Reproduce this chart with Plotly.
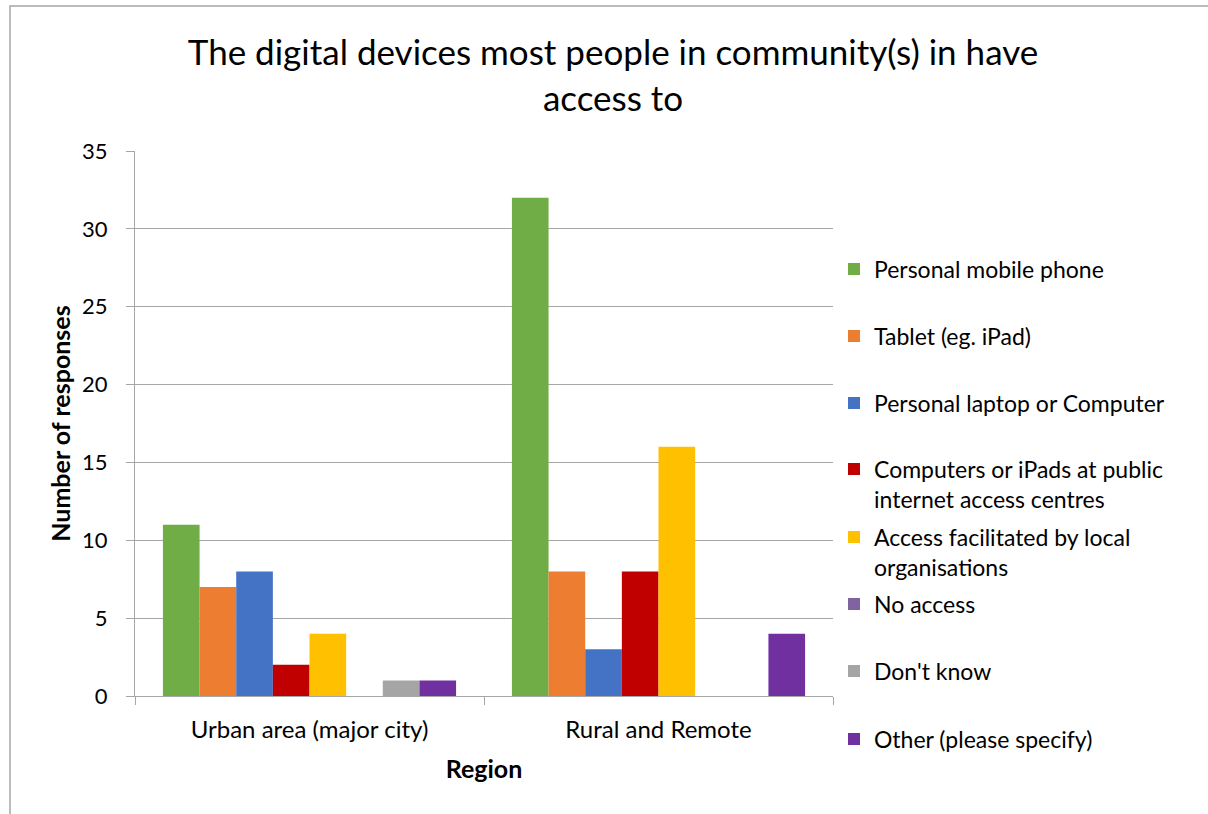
import plotly.graph_objects as go

# Survey responses by region
regions = ["Urban area (major city)", "Rural and Remote"]
devices = [
    "Personal mobile phone",
    "Tablet (eg. iPad)",
    "Personal laptop or Computer",
    "Computers or iPads at public<br>internet access centres",
    "Access facilitated by local<br>organisations",
    "No access",
    "Don't know",
    "Other (please specify)",
]
mobile_phone = [11, 32]
tablet = [7, 8]
laptop = [8, 3]
public_centres = [2, 8]
local_orgs = [4, 16]
no_access = [0, 0]
dont_know = [1, 0]
other = [1, 4]

series = [mobile_phone, tablet, laptop, public_centres, local_orgs,
          no_access, dont_know, other]
colors = ["#70AD47", "#ED7D31", "#4472C4", "#C00000", "#FFC000",
          "#8064A2", "#A5A5A5", "#7030A0"]

FONT = "Lato"
W, H = 1208, 814
left, right, top, bottom = 135, 833, 151, 696

fig = go.Figure()
legend_ids = ["legend"] + [f"legend{i}" for i in range(2, 9)]
for name, vals, col, lid in zip(devices, series, colors, legend_ids):
    fig.add_trace(go.Bar(
        x=regions, y=vals, name=name, marker_color=col,
        marker_line_width=0, legend=lid,
    ))

# Legend entry vertical centres (pixels from top of page)
legend_centres = [269, 336, 403, 484, 552, 604, 671, 739]
legend_layout = {}
for lid, cy in zip(legend_ids, legend_centres):
    legend_layout[lid] = dict(
        x=834 / W, y=1 - cy / H, xref="container", yref="container",
        xanchor="left", yanchor="middle", valign="top",
        bgcolor="rgba(0,0,0,0)", borderwidth=0,
        font=dict(family=FONT, size=23, color="#000000"),
        itemwidth=30, tracegroupgap=0,
    )

fig.update_layout(
    width=W, height=H,
    margin=dict(l=left, r=W - right, t=top, b=H - bottom, autoexpand=False),
    paper_bgcolor="white", plot_bgcolor="white",
    barmode="group", bargap=0.16, bargroupgap=0,
    font=dict(family=FONT, color="#000000"),
    title=dict(
        text="The digital devices most people in community(s) in have<br>access to",
        x=613 / W, xanchor="center", y=1 - 65 / H, yanchor="middle",
        xref="container", yref="container",
        font=dict(family=FONT, size=35, color="#000000"),
    ),
    showlegend=True,
    **legend_layout,
)

fig.update_yaxes(
    range=[0, 35], dtick=5, showgrid=True, gridcolor="#A6A6A6", gridwidth=1,
    showline=True, linecolor="#A6A6A6", linewidth=1,
    ticks="outside", ticklen=8, tickcolor="#A6A6A6", ticklabelstandoff=14,
    tickfont=dict(family=FONT, size=22, color="#000000"),
    zeroline=False,
    title=dict(text="<b>Number of responses</b>", standoff=4,
               font=dict(family=FONT, size=25, color="#000000")),
)
fig.update_xaxes(
    showline=True, linecolor="#A6A6A6", linewidth=1,
    ticks="outside", ticklen=8, tickcolor="#A6A6A6", tickson="boundaries",
    ticklabelstandoff=12,
    tickfont=dict(family=FONT, size=24, color="#000000"),
    title=dict(text="<b>Region</b>", standoff=18,
               font=dict(family=FONT, size=25, color="#000000")),
)

# Outer chart frame
pw, ph = right - left, bottom - top
fig.add_shape(
    type="rect", xref="paper", yref="paper",
    x0=(10 - left) / pw, x1=(W + 20 - left) / pw,
    y0=(bottom - (H + 20)) / ph, y1=(bottom - 6) / ph,
    line=dict(color="#A6A6A6", width=1.5), fillcolor="rgba(0,0,0,0)",
    layer="below",
)

fig.write_html("out.html")
